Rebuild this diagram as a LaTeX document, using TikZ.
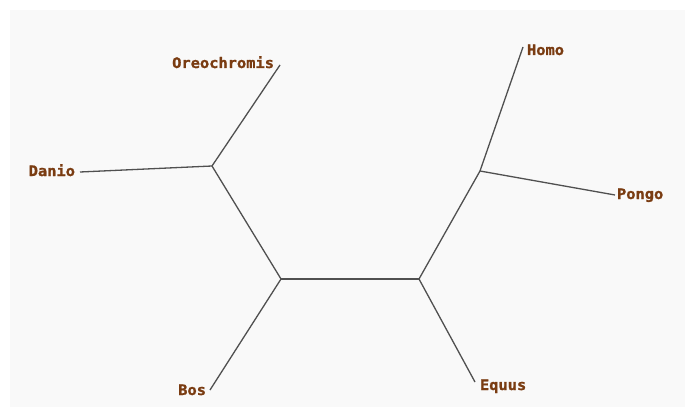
\documentclass[tikz,border=0pt]{standalone}
\usepackage{fontspec}
\newfontfamily\lblfont[FakeStretch=1.06,FakeBold=1.2]{DejaVu Sans Mono Bold}
\definecolor{lbl}{RGB}{122,60,18}
\definecolor{bg}{RGB}{249,249,249}
\definecolor{edge}{RGB}{80,80,80}
\begin{document}
\begin{tikzpicture}[x=1pt,y=-1pt,
  leaf/.style={inner sep=0pt,outer sep=0pt,text=lbl,font=\fontsize{14.5}{15}\selectfont\lblfont},
  branch/.style={draw=edge,line width=1.3pt}]
\useasboundingbox (0,0) rectangle (685,417);
\fill[bg] (10,10) rectangle (685,407);
% internal nodes
\coordinate (A) at (212,166);
\coordinate (B) at (281,279);
\coordinate (C) at (419,279);
\coordinate (D) at (480,171);
% tips
\coordinate (tO) at (280,65);
\coordinate (tDa) at (80,172);
\coordinate (tB) at (210,390);
\coordinate (tE) at (475,382);
\coordinate (tH) at (523,47);
\coordinate (tP) at (615,195);
% labels
\node[leaf,anchor=base east] (Oreo) at (274,68) {Oreochromis};
\node[leaf,anchor=base east] (Danio) at (75,176) {Danio};
\node[leaf,anchor=base west] (Homo) at (527,55) {Homo};
\node[leaf,anchor=base west] (Pongo) at (617,199) {Pongo};
\node[leaf,anchor=base east] (Bos) at (206,395) {Bos};
\node[leaf,anchor=base west] (Equus) at (480,390) {Equus};
% branches
\draw[branch] (tO) -- (A);
\draw[branch] (tDa) -- (A);
\draw[branch] (A) -- (B);
\draw[branch] (B) -- (tB);
\draw[branch] (B) -- (C);
\draw[branch] (C) -- (tE);
\draw[branch] (C) -- (D);
\draw[branch] (D) -- (tH);
\draw[branch] (D) -- (tP);
\end{tikzpicture}
\end{document}
